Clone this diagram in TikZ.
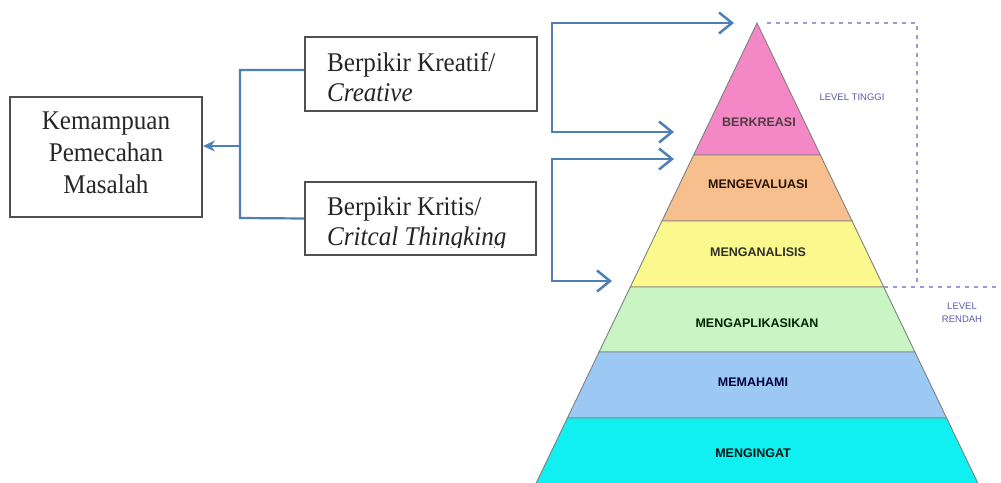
\documentclass[tikz,border=0pt]{standalone}
\usepackage{fontspec}
\setmainfont{Liberation Serif}[FakeStretch=0.93]
\newfontfamily\pyrfont{Liberation Sans}
\usetikzlibrary{arrows.meta}
\definecolor{conn}{HTML}{4F7FB8}
\definecolor{boxline}{HTML}{505050}
\definecolor{dashc}{HTML}{9A9AD8}
\definecolor{lvl}{HTML}{5A5AA8}
\definecolor{cPink}{HTML}{F487C6}
\definecolor{cPeach}{HTML}{F8BF8E}
\definecolor{cYellow}{HTML}{FBF98E}
\definecolor{cGreen}{HTML}{C9F5C4}
\definecolor{cBlue}{HTML}{9CC9F4}
\definecolor{cCyan}{HTML}{10F0F0}
\tikzset{
  boxnode/.style={draw=boxline, line width=2pt, inner sep=0pt, fill=white},
  txt/.style={inner sep=0pt, font=\fontsize{27}{30}\selectfont, align=left, text=black!85},
  conline/.style={draw=conn, line width=2.2pt},
  barbline/.style={draw=conn, line width=2.5pt, arrows={Straight Barb[length=13pt,width=21pt]-Straight Barb[length=13pt,width=21pt]}},
  layer/.style={draw=black!50, line width=0.9pt},
  lyrtxt/.style={inner sep=0pt, font=\pyrfont\bfseries\fontsize{12.5}{14}\selectfont},
  dashline/.style={draw=dashc, line width=1.1pt, dash pattern=on 4pt off 5pt},
  lvltxt/.style={inner sep=0pt, text=lvl, font=\pyrfont\fontsize{9.5}{13}\selectfont, align=center}
}
\begin{document}
\begin{tikzpicture}[x=1pt,y=-1pt]
\useasboundingbox (0,0) rectangle (1001,482);
% ---------- pyramid ----------
\foreach \ya/\yb/\col in {23/155/cPink,155/221/cPeach,221/287/cYellow,287/352/cGreen,352/418/cBlue,418/490/cCyan}{
  \filldraw[layer, fill=\col] ({757-0.48*(\ya-23)},\ya) -- ({757+0.48*(\ya-23)},\ya) -- ({757+0.48*(\yb-23)},\yb) -- ({757-0.48*(\yb-23)},\yb) -- cycle;
}
\node[lyrtxt, text=black!80!magenta] (l1) at (759,122) {BERKREASI};
\node[lyrtxt, text=black!85!orange] (l2) at (758,184) {MENGEVALUASI};
\node[lyrtxt, text=black!85!olive] (l3) at (758,252) {MENGANALISIS};
\node[lyrtxt, text=black!85!green] (l4) at (757,323) {MENGAPLIKASIKAN};
\node[lyrtxt, text=black!75!blue] (l5) at (753,382) {MEMAHAMI};
\node[lyrtxt, text=black!85!teal] (l6) at (753,453) {MENGINGAT};
% ---------- level markers ----------
\coordinate (apex) at (767,23);
\coordinate (dc) at (917,23);
\coordinate (db) at (917,287);
\coordinate (hl) at (884,287);
\coordinate (hr) at (1001,287);
\draw[dashline] (apex) -- (dc) -- (db);
\draw[dashline] (hl) -- (hr);
\node[lvltxt] (tinggi) at (852,97) {LEVEL TINGGI};
\node[lvltxt] (rendah) at (962,313) {LEVEL\\RENDAH};
% ---------- left boxes ----------
\node[boxnode, minimum width=192pt, minimum height=120pt] (kem) at (106,157) {};
\node[txt, align=center, anchor=north, font=\fontsize{27}{32}\selectfont] (kemt) at (106,112) {Kemampuan\\Pemecahan\\Masalah};
\node[boxnode, minimum width=232pt, minimum height=74pt] (kre) at (421,74) {};
\node[txt, anchor=north west] (kret) at (327,52) {Berpikir Kreatif/\\\textit{Creative}};
\node[boxnode, minimum width=231pt, minimum height=73pt] (kri) at (420.5,218.5) {};
\begin{scope}
\clip (300,184) rectangle (540,247);
\node[txt, anchor=north west] (krit) at (327,197) {Berpikir Kritis/\\\textit{Critcal Thingking}};
\end{scope}
% ---------- left connectors ----------
\coordinate (jtop) at (240,70);
\coordinate (jmid) at (240,146);
\coordinate (jbot) at (240,218);
\draw[conline] ([yshift=4pt]kre.west) -- (jtop) -- (jbot) -- (kri.west);
\draw[conline, -{Stealth[length=12pt,width=11pt]}] (jmid) -- ([yshift=11pt]kem.east);
% ---------- brackets to pyramid ----------
\coordinate (t1) at (734,23);
\coordinate (t2) at (674,132);
\coordinate (t3) at (674,159);
\coordinate (t4) at (612,281);
\coordinate (b1) at (552,23);
\coordinate (b2) at (552,132);
\coordinate (b3) at (552,159);
\coordinate (b4) at (552,281);
\draw[barbline] (t2) -- (b2) -- (b1) -- (t1);
\draw[barbline] (t3) -- (b3) -- (b4) -- (t4);
\end{tikzpicture}
\end{document}
